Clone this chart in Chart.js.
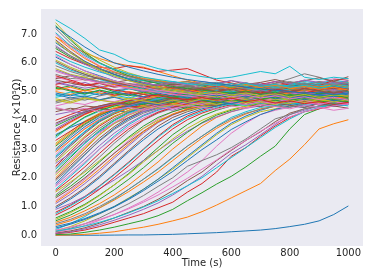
<!DOCTYPE html>
<html lang="en">
<head>
  <meta charset="UTF-8" />
  <title>Resistance vs time</title>
  <script src="https://cdn.jsdelivr.net/npm/chart.js"></script>
  <style>
    body { margin: 0; background: #fff; }
    #box { width: 374px; height: 280px; }
  </style>
</head>
<body>
  <div id="box"><canvas id="grafico"></canvas></div>
  <script>
    // time axis (s), one sample every 50 s
    const times = [0, 50, 100, 150, 200, 250, 300, 350, 400, 450, 500, 550, 600, 650, 700, 750, 800, 850, 900, 950, 1000];
    const xTicks = [0, 200, 400, 600, 800, 1000];
    const yTicks = [0, 1, 2, 3, 4, 5, 6, 7];

    // resistance curves (x10^5 ohm)
    const r00 = [0, 0, 0, 0, 0.005, 0.01, 0.01, 0.02, 0.03, 0.05, 0.07, 0.09, 0.12, 0.15, 0.18, 0.23, 0.3, 0.38, 0.5, 0.72, 1.02];
    const r01 = [0, 0.01, 0.03, 0.07, 0.12, 0.2, 0.28, 0.38, 0.5, 0.63, 0.82, 1.05, 1.3, 1.55, 1.8, 2.25, 2.65, 3.15, 3.7, 3.88, 4.02];
    const r02 = [0.02, 0.04, 0.1, 0.18, 0.28, 0.4, 0.52, 0.68, 0.9, 1.2, 1.48, 1.78, 2.05, 2.38, 2.75, 3.1, 3.7, 4.2, 4.4, 4.6, 4.7];
    const r03 = [0.05, 0.1, 0.18, 0.3, 0.45, 0.6, 0.75, 0.95, 1.15, 1.5, 1.8, 2.2, 2.75, 3.05, 3.45, 3.8, 4.1, 4.3, 4.4, 4.5, 4.6];
    const r04 = [0.06, 0.12, 0.22, 0.36, 0.52, 0.7, 0.9, 1.12, 1.4, 1.72, 2.05, 2.45, 2.85, 3.15, 3.5, 3.85, 4.2, 4.35, 4.5, 4.55, 4.65];
    const r05 = [0.08, 0.15, 0.26, 0.42, 0.6, 0.8, 1.0, 1.25, 1.55, 1.9, 2.2, 2.6, 2.95, 3.3, 3.6, 3.95, 4.25, 4.4, 4.5, 4.6, 4.7];
    const r06 = [0.1, 0.2, 0.34, 0.52, 0.72, 0.95, 1.2, 1.5, 1.85, 2.2, 2.6, 3.1, 3.55, 3.9, 4.2, 4.35, 4.45, 4.55, 4.6, 4.7, 4.75];
    const r07 = [0.12, 0.24, 0.4, 0.6, 0.85, 1.1, 1.38, 1.7, 2.0, 2.4, 2.6, 2.8, 3.05, 3.35, 3.7, 4.05, 4.2, 4.4, 4.5, 4.55, 4.6];
    const r08 = [0.15, 0.3, 0.5, 0.75, 1.0, 1.3, 1.6, 1.95, 2.3, 2.7, 3.1, 3.5, 3.85, 4.1, 4.3, 4.4, 4.5, 4.6, 4.65, 4.7, 4.8];
    const r09 = [0.2, 0.4, 0.65, 0.95, 1.25, 1.6, 1.95, 2.3, 2.7, 3.1, 3.45, 3.8, 4.1, 4.3, 4.45, 4.5, 4.6, 4.7, 4.7, 4.8, 4.85];
    const r10 = [0.3, 0.42, 0.58, 0.78, 1.0, 1.28, 1.6, 1.95, 2.35, 2.75, 3.15, 3.55, 3.9, 4.15, 4.35, 4.5, 4.55, 4.62, 4.7, 4.75, 4.8];
    const r11 = [0.45, 0.62, 0.85, 1.1, 1.4, 1.75, 2.15, 2.55, 3.0, 3.4, 3.8, 4.1, 4.3, 4.45, 4.55, 4.6, 4.7, 4.72, 4.8, 4.78, 4.85];
    const r12 = [0.6, 0.82, 1.08, 1.4, 1.75, 2.15, 2.6, 3.05, 3.5, 3.85, 4.15, 4.35, 4.5, 4.55, 4.65, 4.7, 4.75, 4.8, 4.85, 4.8, 4.9];
    const r13 = [0.8, 1.05, 1.35, 1.72, 2.12, 2.55, 3.0, 3.45, 3.85, 4.15, 4.35, 4.5, 4.6, 4.65, 4.72, 4.8, 4.78, 4.85, 4.9, 4.88, 4.95];
    const r14 = [0.9, 1.1, 1.35, 1.62, 1.92, 2.25, 2.6, 2.95, 3.3, 3.62, 3.9, 4.12, 4.3, 4.42, 4.5, 4.58, 4.62, 4.7, 4.65, 4.75, 4.72];
    const r15 = [1.0, 1.3, 1.65, 2.05, 2.5, 2.95, 3.4, 3.8, 4.1, 4.3, 4.45, 4.55, 4.62, 4.7, 4.8, 4.75, 4.85, 4.9, 4.85, 4.95, 5.0];
    const r16 = [1.2, 1.55, 1.95, 2.4, 2.85, 3.3, 3.72, 4.05, 4.3, 4.45, 4.55, 4.65, 4.7, 4.8, 4.78, 4.85, 4.9, 4.95, 4.9, 5.0, 4.95];
    const r17 = [1.4, 1.8, 2.25, 2.72, 3.2, 3.62, 4.0, 4.25, 4.42, 4.55, 4.62, 4.7, 4.75, 4.82, 4.9, 4.85, 4.95, 4.9, 5.0, 4.95, 5.05];
    const r18 = [1.5, 1.85, 2.2, 2.6, 3.0, 3.38, 3.72, 4.0, 4.2, 4.35, 4.45, 4.52, 4.6, 4.55, 4.65, 4.72, 4.68, 4.78, 4.72, 4.82, 4.78];
    const r19 = [1.6, 2.05, 2.5, 3.0, 3.45, 3.85, 4.15, 4.35, 4.5, 4.6, 4.68, 4.72, 4.8, 4.85, 4.8, 4.9, 4.95, 4.88, 5.0, 5.05, 4.98];
    const r20 = [1.8, 2.3, 2.8, 3.3, 3.72, 4.05, 4.3, 4.45, 4.55, 4.65, 4.7, 4.75, 4.8, 4.88, 4.92, 4.85, 4.95, 5.0, 4.92, 5.05, 5.1];
    const r21 = [2.0, 2.5, 3.0, 3.5, 3.9, 4.2, 4.4, 4.5, 4.6, 4.68, 4.72, 4.78, 4.85, 4.8, 4.9, 4.95, 4.88, 5.02, 4.95, 5.0, 5.08];
    const r22 = [2.2, 2.7, 3.2, 3.65, 4.0, 4.28, 4.45, 4.55, 4.62, 4.7, 4.78, 4.75, 4.85, 4.9, 4.82, 4.95, 5.0, 4.9, 5.05, 4.98, 5.1];
    const r23 = [2.4, 2.9, 3.4, 3.8, 4.12, 4.35, 4.5, 4.58, 4.65, 4.75, 4.7, 4.82, 4.9, 4.85, 4.95, 4.9, 5.05, 4.95, 5.1, 5.0, 5.12];
    const r24 = [2.5, 2.85, 3.25, 3.6, 3.9, 4.1, 4.3, 4.42, 4.35, 4.5, 4.62, 4.55, 4.68, 4.75, 4.7, 4.82, 4.78, 4.88, 4.8, 4.92, 4.85];
    const r25 = [2.6, 3.1, 3.55, 3.95, 4.22, 4.42, 4.55, 4.62, 4.7, 4.78, 4.85, 4.8, 4.92, 4.88, 5.0, 4.95, 5.1, 5.0, 5.15, 5.05, 5.15];
    const r26 = [2.8, 3.3, 3.72, 4.05, 4.3, 4.48, 4.58, 4.68, 4.72, 4.8, 4.76, 4.88, 4.95, 4.9, 5.05, 5.0, 5.12, 5.05, 5.2, 5.1, 5.2];
    const r27 = [3.0, 3.45, 3.85, 4.15, 4.38, 4.52, 4.6, 4.7, 4.78, 4.72, 4.85, 4.9, 4.85, 5.0, 4.95, 5.1, 5.05, 5.2, 5.1, 5.25, 5.15];
    const r28 = [3.2, 3.6, 3.98, 4.25, 4.45, 4.55, 4.65, 4.72, 4.8, 4.85, 4.8, 4.95, 5.0, 4.92, 5.08, 5.02, 5.15, 5.1, 5.22, 5.15, 5.3];
    const r29 = [3.4, 3.78, 4.1, 4.32, 4.5, 4.6, 4.68, 4.75, 4.7, 4.82, 4.9, 4.85, 4.98, 5.05, 4.95, 5.1, 5.2, 5.1, 5.25, 5.2, 5.25];
    const r30 = [3.5, 3.75, 3.95, 4.2, 4.35, 4.28, 4.45, 4.55, 4.5, 4.62, 4.7, 4.65, 4.78, 4.72, 4.85, 4.8, 4.92, 4.85, 4.95, 4.9, 4.98];
    const r31 = [3.6, 3.92, 4.2, 4.4, 4.52, 4.62, 4.72, 4.68, 4.8, 4.88, 4.82, 4.95, 4.9, 5.05, 5.0, 5.15, 5.08, 5.2, 5.15, 5.3, 5.2];
    const r32 = [3.8, 4.05, 4.28, 4.45, 4.55, 4.65, 4.6, 4.75, 4.82, 4.78, 4.9, 4.85, 5.0, 4.95, 5.1, 5.05, 5.2, 5.12, 5.28, 5.2, 5.3];
    const r33 = [4.0, 4.2, 4.38, 4.5, 4.6, 4.55, 4.7, 4.78, 4.72, 4.85, 4.8, 4.95, 4.9, 5.05, 5.0, 5.12, 5.08, 5.25, 5.18, 5.3, 5.25];
    const r34 = [4.2, 4.3, 4.25, 4.4, 4.35, 4.5, 4.45, 4.6, 4.55, 4.5, 4.65, 4.6, 4.7, 4.62, 4.75, 4.7, 4.6, 4.72, 4.65, 4.8, 4.7];
    const r35 = [4.4, 4.35, 4.5, 4.45, 4.6, 4.52, 4.65, 4.58, 4.7, 4.65, 4.75, 4.7, 4.6, 4.72, 4.8, 4.68, 4.75, 4.85, 4.78, 4.7, 4.82];
    const r36 = [4.5, 4.62, 4.55, 4.7, 4.65, 4.78, 4.7, 4.82, 4.75, 4.85, 4.78, 4.9, 4.82, 4.95, 4.88, 5.0, 4.92, 4.85, 4.98, 4.9, 5.0];
    const r37 = [4.6, 4.72, 4.8, 4.7, 4.85, 4.92, 4.82, 4.95, 5.05, 4.95, 5.1, 5.02, 5.15, 5.05, 5.18, 5.1, 5.22, 5.12, 5.25, 5.15, 5.2];
    const r38 = [4.7, 4.6, 4.75, 4.68, 4.82, 4.75, 4.9, 4.8, 4.72, 4.88, 4.95, 4.85, 4.78, 4.92, 5.0, 4.9, 4.82, 4.95, 5.05, 4.92, 4.88];
    const r39 = [4.8, 4.9, 4.82, 4.95, 4.88, 4.78, 4.92, 5.0, 4.9, 4.82, 4.95, 5.05, 4.95, 4.85, 5.0, 5.1, 4.98, 4.9, 5.05, 5.12, 5.0];
    const r40 = [4.9, 4.78, 4.85, 4.72, 4.8, 4.68, 4.75, 4.65, 4.72, 4.6, 4.68, 4.58, 4.65, 4.55, 4.62, 4.52, 4.6, 4.5, 4.58, 4.48, 4.55];
    const r41 = [5.0, 4.9, 5.05, 4.95, 4.85, 5.0, 4.92, 5.08, 4.98, 4.9, 5.05, 4.95, 5.1, 5.0, 4.92, 5.05, 5.15, 5.02, 4.95, 5.1, 5.05];
    const r42 = [5.1, 5.2, 5.05, 5.15, 5.0, 5.1, 4.98, 5.12, 5.05, 5.18, 5.08, 5.0, 5.15, 5.22, 5.1, 5.02, 5.18, 5.25, 5.12, 5.05, 5.2];
    const r43 = [5.2, 5.05, 4.95, 5.02, 4.88, 4.95, 4.82, 4.9, 4.78, 4.85, 4.75, 4.82, 4.7, 4.78, 4.68, 4.75, 4.65, 4.72, 4.62, 4.7, 4.6];
    const r44 = [5.3, 5.2, 5.32, 5.15, 5.25, 5.1, 5.22, 5.08, 5.18, 5.05, 5.15, 5.25, 5.12, 5.2, 5.3, 5.18, 5.1, 5.22, 5.35, 5.25, 5.3];
    const r45 = [5.4, 5.3, 5.2, 5.28, 5.15, 5.22, 5.1, 5.2, 5.05, 5.12, 5.0, 5.1, 4.95, 5.05, 4.92, 5.0, 5.08, 4.95, 5.02, 4.9, 5.0];
    const r46 = [5.5, 5.38, 5.42, 5.3, 5.35, 5.25, 5.3, 5.2, 5.28, 5.15, 5.22, 5.1, 5.18, 5.3, 5.2, 5.35, 5.25, 5.4, 5.3, 5.45, 5.38];
    const r47 = [5.6, 5.45, 5.5, 5.3, 5.38, 5.2, 5.25, 5.1, 5.15, 5.0, 5.08, 4.95, 5.02, 4.9, 4.98, 4.85, 4.95, 4.88, 4.8, 4.9, 4.85];
    const r48 = [5.8, 5.6, 5.5, 5.35, 5.25, 5.15, 5.1, 5.0, 4.95, 4.9, 4.85, 4.8, 4.88, 4.75, 4.82, 4.7, 4.78, 4.65, 4.72, 4.6, 4.7];
    const r49 = [6.0, 5.75, 5.6, 5.42, 5.3, 5.18, 5.08, 5.0, 4.92, 4.85, 4.9, 4.78, 4.85, 4.72, 4.8, 4.7, 4.62, 4.75, 4.68, 4.55, 4.6];
    const r50 = [6.2, 5.95, 5.72, 5.55, 5.38, 5.25, 5.12, 5.05, 4.95, 4.88, 4.95, 4.82, 4.75, 4.85, 4.7, 4.78, 4.65, 4.72, 4.6, 4.68, 4.55];
    const r51 = [6.9, 6.6, 6.35, 6.15, 6.0, 5.9, 5.85, 5.7, 5.55, 5.4, 5.3, 5.2, 5.1, 5.05, 4.95, 4.9, 4.85, 4.8, 4.75, 4.7, 4.65];
    const r52 = [6.5, 6.2, 5.98, 5.78, 5.6, 5.45, 5.38, 5.3, 5.25, 5.15, 5.2, 5.1, 5.15, 5.05, 5.1, 5.0, 5.08, 4.95, 5.02, 4.9, 4.98];
    const r53 = [6.4, 6.15, 5.95, 5.85, 5.8, 5.9, 5.82, 5.7, 5.75, 5.8, 5.6, 5.4, 5.3, 5.2, 5.15, 5.05, 5.1, 4.98, 5.0, 4.92, 4.95];
    const r54 = [6.6, 6.25, 5.95, 5.72, 5.5, 5.38, 5.25, 5.15, 5.08, 5.12, 5.0, 5.05, 4.95, 5.02, 4.9, 4.98, 4.85, 4.92, 4.8, 4.88, 4.82];
    const r55 = [6.8, 6.4, 6.05, 5.8, 5.6, 5.45, 5.32, 5.2, 5.25, 5.1, 5.15, 5.05, 5.1, 4.98, 5.05, 4.92, 5.0, 4.88, 4.95, 4.85, 4.92];
    const r56 = [7.0, 6.55, 6.2, 5.9, 5.7, 5.5, 5.4, 5.3, 5.2, 5.25, 5.12, 5.18, 5.05, 5.12, 5.0, 5.08, 4.95, 5.02, 4.9, 4.98, 4.9];
    const r57 = [7.2, 6.7, 6.3, 6.0, 5.78, 5.6, 5.45, 5.35, 5.28, 5.2, 5.25, 5.15, 5.2, 5.1, 5.15, 5.3, 5.45, 5.62, 5.5, 5.35, 5.3];
    const r58 = [7.4, 6.85, 6.4, 6.1, 5.85, 5.65, 5.5, 5.4, 5.3, 5.35, 5.22, 5.28, 5.15, 5.22, 5.1, 5.18, 5.05, 5.12, 5.0, 5.08, 5.0];
    const r59 = [7.5, 7.2, 6.85, 6.45, 6.3, 6.05, 5.95, 5.8, 5.7, 5.6, 5.52, 5.45, 5.5, 5.6, 5.7, 5.62, 5.88, 5.5, 5.42, 5.5, 5.45];
    // more curves from the rising fan
    const a00 = [0.15, 0.22, 0.32, 0.45, 0.6, 0.78, 0.98, 1.2, 1.45, 1.72, 2.0, 2.35, 2.7, 3.05, 3.4, 3.75, 4.05, 4.3, 4.45, 4.55, 4.62];
    const a01 = [0.25, 0.38, 0.55, 0.75, 0.98, 1.25, 1.55, 1.88, 2.22, 2.6, 2.98, 3.32, 3.68, 3.95, 4.2, 4.38, 4.5, 4.45, 4.6, 4.68, 4.65];
    const a02 = [0.35, 0.5, 0.7, 0.95, 1.22, 1.52, 1.85, 2.2, 2.6, 3.0, 3.38, 3.72, 4.0, 4.22, 4.4, 4.48, 4.62, 4.7, 4.65, 4.78, 4.82];
    const a03 = [0.5, 0.7, 0.95, 1.25, 1.58, 1.95, 2.35, 2.78, 3.2, 3.58, 3.92, 4.18, 4.35, 4.5, 4.58, 4.7, 4.65, 4.78, 4.85, 4.8, 4.92];
    const a04 = [0.7, 0.95, 1.25, 1.6, 2.0, 2.42, 2.88, 3.3, 3.7, 4.02, 4.25, 4.42, 4.55, 4.62, 4.7, 4.78, 4.85, 4.8, 4.92, 5.0, 4.95];
    const a05 = [1.1, 1.42, 1.8, 2.22, 2.68, 3.12, 3.55, 3.92, 4.18, 4.38, 4.5, 4.6, 4.68, 4.75, 4.85, 4.95, 4.9, 5.02, 5.1, 5.05, 5.15];
    const a06 = [1.3, 1.62, 2.0, 2.42, 2.85, 3.25, 3.62, 3.95, 4.2, 4.38, 4.5, 4.58, 4.52, 4.65, 4.6, 4.72, 4.68, 4.62, 4.75, 4.7, 4.6];
    const a07 = [1.7, 2.1, 2.55, 3.0, 3.4, 3.78, 4.08, 4.3, 4.45, 4.58, 4.52, 4.68, 4.75, 4.7, 4.82, 4.92, 4.88, 5.0, 5.1, 5.02, 5.12];
    const a08 = [1.9, 2.35, 2.82, 3.28, 3.68, 4.0, 4.25, 4.42, 4.55, 4.5, 4.62, 4.58, 4.7, 4.65, 4.55, 4.68, 4.62, 4.75, 4.68, 4.58, 4.66];
    const a09 = [2.1, 2.55, 3.05, 3.5, 3.88, 4.18, 4.38, 4.52, 4.62, 4.7, 4.8, 4.9, 4.85, 4.98, 5.05, 4.98, 5.1, 5.2, 5.12, 5.25, 5.18];
    const a10 = [2.3, 2.75, 3.2, 3.62, 3.98, 4.25, 4.42, 4.5, 4.45, 4.55, 4.5, 4.62, 4.55, 4.68, 4.6, 4.5, 4.62, 4.55, 4.45, 4.58, 4.5];
    const a11 = [2.7, 3.15, 3.6, 3.98, 4.25, 4.45, 4.58, 4.7, 4.8, 4.92, 4.88, 5.0, 5.08, 5.0, 5.12, 5.22, 5.15, 5.28, 5.2, 5.32, 5.25];
    const a12 = [2.9, 3.3, 3.7, 4.02, 4.25, 4.42, 4.52, 4.48, 4.6, 4.55, 4.68, 4.62, 4.75, 4.7, 4.62, 4.75, 4.85, 4.78, 4.7, 4.82, 4.75];
    const a13 = [3.1, 3.5, 3.88, 4.18, 4.4, 4.55, 4.68, 4.8, 4.75, 4.9, 5.0, 4.92, 5.05, 5.15, 5.05, 4.98, 5.1, 5.02, 5.15, 5.08, 4.98];
    const a14 = [3.3, 3.62, 3.95, 4.22, 4.4, 4.5, 4.45, 4.58, 4.52, 4.65, 4.58, 4.7, 4.62, 4.55, 4.68, 4.6, 4.72, 4.65, 4.58, 4.7, 4.62];
    const a15 = [3.7, 4.0, 4.25, 4.45, 4.58, 4.7, 4.82, 4.75, 4.88, 4.95, 5.05, 4.98, 5.1, 5.02, 5.15, 5.25, 5.18, 5.1, 5.22, 5.32, 5.28];
    const a16 = [3.9, 4.12, 4.3, 4.42, 4.35, 4.48, 4.42, 4.55, 4.5, 4.42, 4.55, 4.5, 4.62, 4.55, 4.48, 4.6, 4.52, 4.45, 4.58, 4.5, 4.42];
    const d00 = [0.18, 0.28, 0.4, 0.55, 0.72, 0.92, 1.15, 1.4, 1.68, 1.98, 2.3, 2.62, 2.98, 3.3, 3.62, 3.9, 4.12, 4.3, 4.42, 4.5, 4.58];
    const d01 = [0.4, 0.55, 0.75, 1.0, 1.28, 1.6, 1.95, 2.32, 2.72, 3.1, 3.45, 3.78, 4.05, 4.25, 4.38, 4.5, 4.45, 4.58, 4.65, 4.6, 4.7];
    const d02 = [0.55, 0.78, 1.05, 1.38, 1.75, 2.12, 2.55, 2.95, 3.35, 3.72, 4.0, 4.22, 4.38, 4.5, 4.62, 4.55, 4.7, 4.78, 4.72, 4.85, 4.9];
    const d03 = [0.75, 1.02, 1.32, 1.7, 2.1, 2.52, 2.98, 3.42, 3.8, 4.1, 4.3, 4.45, 4.58, 4.52, 4.65, 4.75, 4.7, 4.82, 4.9, 4.85, 4.95];
    const d04 = [0.95, 1.25, 1.6, 2.0, 2.45, 2.9, 3.32, 3.7, 4.0, 4.22, 4.4, 4.5, 4.62, 4.7, 4.65, 4.78, 4.85, 4.8, 4.92, 4.88, 5.0];
    const d05 = [1.15, 1.5, 1.88, 2.3, 2.75, 3.18, 3.6, 3.95, 4.22, 4.4, 4.52, 4.62, 4.7, 4.8, 4.75, 4.88, 4.95, 5.05, 4.98, 5.1, 5.05];
    const d06 = [1.35, 1.7, 2.1, 2.55, 3.0, 3.42, 3.8, 4.1, 4.3, 4.45, 4.55, 4.65, 4.75, 4.7, 4.82, 4.78, 4.9, 4.85, 4.95, 4.9, 4.85];
    const d07 = [1.55, 1.95, 2.38, 2.85, 3.3, 3.7, 4.02, 4.28, 4.45, 4.58, 4.68, 4.62, 4.75, 4.85, 4.8, 4.92, 5.0, 4.95, 5.05, 5.12, 5.08];
    const d08 = [1.75, 2.2, 2.65, 3.12, 3.55, 3.9, 4.18, 4.38, 4.5, 4.62, 4.58, 4.7, 4.65, 4.75, 4.7, 4.62, 4.72, 4.68, 4.8, 4.75, 4.68];
    const d09 = [1.95, 2.42, 2.9, 3.38, 3.78, 4.1, 4.35, 4.5, 4.62, 4.72, 4.82, 4.78, 4.9, 4.98, 4.92, 5.05, 5.12, 5.05, 5.18, 5.1, 5.2];
    const d10 = [2.15, 2.62, 3.1, 3.55, 3.92, 4.2, 4.4, 4.55, 4.5, 4.62, 4.55, 4.68, 4.62, 4.55, 4.65, 4.58, 4.7, 4.62, 4.55, 4.65, 4.58];
    const d11 = [2.35, 2.82, 3.3, 3.72, 4.05, 4.3, 4.48, 4.6, 4.72, 4.82, 4.92, 5.02, 4.95, 5.08, 5.0, 5.12, 5.05, 5.18, 5.25, 5.15, 5.22];
    const d12 = [2.55, 3.0, 3.45, 3.85, 4.15, 4.35, 4.48, 4.42, 4.55, 4.5, 4.62, 4.55, 4.68, 4.6, 4.72, 4.65, 4.58, 4.7, 4.62, 4.75, 4.68];
    const d13 = [2.75, 3.2, 3.62, 4.0, 4.28, 4.48, 4.62, 4.75, 4.85, 4.8, 4.95, 5.05, 4.98, 5.12, 5.05, 4.98, 5.1, 5.2, 5.1, 5.18, 5.1];
    const d14 = [2.95, 3.38, 3.78, 4.1, 4.35, 4.5, 4.62, 4.55, 4.68, 4.6, 4.72, 4.65, 4.58, 4.7, 4.82, 4.75, 4.85, 4.78, 4.9, 4.82, 4.88];
    const d15 = [3.15, 3.55, 3.92, 4.2, 4.42, 4.58, 4.72, 4.85, 4.95, 5.05, 4.98, 5.1, 5.2, 5.12, 5.25, 5.18, 5.3, 5.22, 5.15, 5.28, 5.35];
    const d16 = [3.45, 3.8, 4.12, 4.35, 4.5, 4.6, 4.55, 4.68, 4.62, 4.75, 4.7, 4.6, 4.72, 4.65, 4.78, 4.7, 4.62, 4.75, 4.68, 4.6, 4.72];
    const d17 = [3.65, 3.95, 4.22, 4.42, 4.55, 4.68, 4.78, 4.9, 4.85, 4.98, 5.08, 5.0, 5.12, 5.05, 4.95, 5.08, 5.0, 5.12, 5.05, 5.18, 5.1];
    const d18 = [3.85, 4.1, 4.32, 4.48, 4.58, 4.52, 4.65, 4.58, 4.7, 4.62, 4.72, 4.8, 4.72, 4.85, 4.78, 4.88, 4.8, 4.92, 4.85, 4.95, 4.9];
    // more curves from the flat band
    const b00 = [4.3, 4.42, 4.35, 4.5, 4.62, 4.55, 4.7, 4.62, 4.78, 4.7, 4.85, 4.95, 4.88, 5.0, 4.92, 5.05, 4.95, 5.1, 5.02, 4.95, 5.08];
    const b01 = [4.45, 4.32, 4.42, 4.3, 4.38, 4.45, 4.35, 4.48, 4.4, 4.52, 4.45, 4.38, 4.5, 4.42, 4.55, 4.48, 4.4, 4.52, 4.45, 4.35, 4.42];
    const b02 = [4.65, 4.78, 4.7, 4.85, 4.95, 4.88, 5.02, 4.95, 5.1, 5.02, 5.15, 5.08, 5.22, 5.15, 5.25, 5.18, 5.3, 5.22, 5.35, 5.28, 5.38];
    const b03 = [4.75, 4.65, 4.78, 4.7, 4.62, 4.75, 4.68, 4.58, 4.7, 4.62, 4.75, 4.68, 4.8, 4.72, 4.65, 4.78, 4.7, 4.62, 4.72, 4.65, 4.75];
    const b04 = [4.85, 4.98, 4.9, 5.05, 4.95, 5.1, 5.02, 5.15, 5.08, 5.2, 5.1, 5.25, 5.18, 5.3, 5.2, 5.12, 5.25, 5.35, 5.28, 5.4, 5.32];
    const b05 = [4.95, 4.85, 4.98, 4.88, 5.0, 4.9, 4.82, 4.95, 4.85, 4.78, 4.9, 4.82, 4.95, 4.85, 4.78, 4.9, 4.82, 4.95, 4.88, 4.8, 4.92];
    const b06 = [5.05, 5.15, 5.02, 5.12, 5.25, 5.15, 5.05, 5.18, 5.1, 5.0, 5.12, 5.22, 5.1, 5.02, 5.15, 5.25, 5.12, 5.05, 5.18, 5.28, 5.15];
    const b07 = [5.15, 5.02, 4.92, 5.05, 4.95, 4.85, 4.98, 4.88, 4.8, 4.92, 4.82, 4.75, 4.88, 4.78, 4.7, 4.82, 4.75, 4.68, 4.8, 4.72, 4.65];
    const b08 = [5.25, 5.35, 5.22, 5.3, 5.18, 5.28, 5.15, 5.25, 5.12, 5.2, 5.1, 5.18, 5.28, 5.15, 5.25, 5.35, 5.22, 5.3, 5.2, 5.4, 5.45];
    const b09 = [5.35, 5.22, 5.12, 5.2, 5.05, 5.12, 5.0, 5.08, 4.95, 5.02, 4.9, 4.98, 4.88, 4.95, 5.05, 4.92, 5.0, 4.9, 4.98, 5.08, 4.95];
    const b10 = [5.45, 5.55, 5.4, 5.48, 5.32, 5.4, 5.28, 5.35, 5.22, 5.3, 5.2, 5.28, 5.38, 5.25, 5.32, 5.42, 5.3, 5.38, 5.48, 5.35, 5.52];
    // more curves from the decaying top
    const c00 = [5.7, 5.55, 5.42, 5.3, 5.2, 5.12, 5.05, 4.98, 4.9, 4.85, 4.78, 4.85, 4.72, 4.8, 4.68, 4.75, 4.62, 4.7, 4.58, 4.65, 4.55];
    const c01 = [5.9, 5.7, 5.55, 5.45, 5.35, 5.28, 5.2, 5.25, 5.15, 5.2, 5.1, 5.15, 5.05, 5.12, 5.2, 5.1, 5.18, 5.05, 5.12, 5.0, 5.08];
    const c02 = [6.1, 5.85, 5.65, 5.5, 5.35, 5.25, 5.15, 5.08, 5.0, 4.95, 4.88, 4.82, 4.9, 4.78, 4.85, 4.72, 4.8, 4.7, 4.78, 4.65, 4.72];
    const c03 = [6.3, 6.05, 5.85, 5.68, 5.55, 5.45, 5.38, 5.3, 5.35, 5.25, 5.3, 5.2, 5.28, 5.18, 5.25, 5.15, 5.22, 5.3, 5.2, 5.28, 5.18];
    const c04 = [6.7, 6.35, 6.05, 5.8, 5.6, 5.42, 5.28, 5.15, 5.05, 4.98, 4.92, 4.85, 4.92, 4.8, 4.88, 4.75, 4.82, 4.72, 4.8, 4.68, 4.75];
    const c05 = [6.9, 6.5, 6.15, 5.88, 5.68, 5.55, 5.45, 5.38, 5.3, 5.35, 5.25, 5.3, 5.2, 5.25, 5.15, 5.22, 5.12, 5.18, 5.08, 5.15, 5.05];
    const c06 = [7.3, 6.8, 6.35, 6.0, 5.75, 5.55, 5.4, 5.28, 5.18, 5.1, 5.05, 5.0, 4.95, 5.02, 4.9, 4.98, 4.85, 4.92, 4.8, 4.88, 4.78];
    const e00 = [5.55, 5.4, 5.25, 5.15, 5.05, 4.98, 4.9, 4.85, 4.78, 4.72, 4.8, 4.7, 4.78, 4.65, 4.72, 4.6, 4.68, 4.58, 4.65, 4.55, 4.62];
    const e01 = [5.75, 5.58, 5.45, 5.35, 5.28, 5.2, 5.3, 5.22, 5.32, 5.25, 5.35, 5.28, 5.38, 5.3, 5.22, 5.35, 5.28, 5.4, 5.32, 5.25, 5.38];
    const e02 = [6.05, 5.8, 5.6, 5.45, 5.32, 5.22, 5.15, 5.08, 5.15, 5.05, 5.12, 5.0, 5.08, 4.95, 5.02, 4.92, 5.0, 5.1, 5.02, 4.95, 5.05];
    const e03 = [6.25, 5.95, 5.72, 5.52, 5.38, 5.25, 5.15, 5.05, 4.98, 4.92, 4.85, 4.92, 4.82, 4.88, 4.78, 4.85, 4.75, 4.82, 4.72, 4.8, 4.7];
    const e04 = [6.55, 6.25, 6.0, 5.8, 5.65, 5.52, 5.42, 5.35, 5.28, 5.35, 5.25, 5.32, 5.22, 5.3, 5.2, 5.28, 5.35, 5.25, 5.32, 5.22, 5.28];
    const e05 = [6.75, 6.35, 6.02, 5.75, 5.55, 5.38, 5.25, 5.15, 5.05, 4.98, 4.92, 4.98, 4.88, 4.95, 4.85, 4.92, 4.82, 4.9, 4.8, 4.88, 4.85];
    const e06 = [7.05, 6.6, 6.25, 5.98, 5.78, 5.62, 5.5, 5.42, 5.35, 5.28, 5.22, 5.3, 5.2, 5.28, 5.18, 5.25, 5.15, 5.22, 5.12, 5.2, 5.12];
    const e07 = [7.25, 6.9, 6.55, 6.25, 6.0, 5.85, 5.72, 5.6, 5.5, 5.42, 5.35, 5.28, 5.22, 5.15, 5.1, 5.05, 5.0, 4.95, 4.98, 4.9, 4.95];

    const curves = [r00, r01, r02, r03, r04, r05, r06, r07, r08, r09, r10, r11, r12, r13, r14, r15, r16, r17, r18, r19,
                    r20, r21, r22, r23, r24, r25, r26, r27, r28, r29, r30, r31, r32, r33, r34, r35, r36, r37, r38, r39,
                    r40, r41, r42, r43, r44, r45, r46, r47, r48, r49, r50, r51, r52, r53, r54, r55, r56, r57, r58,
                    a00, a01, a02, a03, a04, a05, a06, a07, a08, a09, a10, a11, a12, a13, a14, a15, a16,
                    d00, d01, d02, d03, d04, d05, d06, d07, d08, d09, d10, d11, d12, d13, d14, d15, d16, d17, d18,
                    b00, b01, b02, b03, b04, b05, b06, b07, b08, b09, b10,
                    c00, c01, c02, c03, c04, c05, c06, e00, e01, e02, e03, e04, e05, e06, e07, r59];

    const cores = ['#1f77b4', '#ff7f0e', '#2ca02c', '#d62728', '#9467bd', '#8c564b', '#e377c2', '#7f7f7f', '#bcbd22', '#17becf'];

    // Chart.js puts dataset 0 on top, so reverse to keep the last curve on top
    const datasets = curves.map((c, i) => ({
      data: times.map((t, k) => ({ x: t, y: c[k] })),
      borderColor: c === r59 ? '#17becf' : cores[i % cores.length],
      borderWidth: 1,
      pointRadius: 0,
      fill: false,
      tension: 0
    })).reverse();

    const fundo = {
      id: 'fundo',
      beforeDraw(chart) {
        const a = chart.chartArea;
        const ctx = chart.ctx;
        ctx.save();
        ctx.fillStyle = '#eaeaf2';
        ctx.fillRect(a.left, a.top, a.right - a.left, a.bottom - a.top);
        ctx.restore();
      }
    };

    const fonte = { family: 'DejaVu Sans', size: 10, lineHeight: 1 };
    const cinza = '#262626';

    new Chart(document.getElementById('grafico'), {
      type: 'line',
      data: { datasets },
      plugins: [fundo],
      options: {
        responsive: true,
        maintainAspectRatio: false,
        animation: false,
        layout: { padding: { top: 9, right: 11, bottom: 0, left: 0 } },
        plugins: { legend: { display: false }, tooltip: { enabled: false } },
        scales: {
          x: {
            type: 'linear',
            min: -50,
            max: 1050,
            afterBuildTicks: s => { s.ticks = xTicks.map(v => ({ value: v })); },
            afterFit: s => { s.height = 34; },
            ticks: { font: fonte, color: cinza, padding: 2, maxRotation: 0, callback: v => String(v) },
            grid: { display: false, drawTicks: false },
            border: { display: false },
            title: { display: true, text: 'Time (s)', font: fonte, color: cinza, padding: { top: 0, bottom: 11.5 } }
          },
          y: {
            min: -0.375,
            max: 7.875,
            afterBuildTicks: s => { s.ticks = yTicks.map(v => ({ value: v })); },
            afterFit: s => { s.width = 41; },
            ticks: { font: fonte, color: cinza, padding: 4, callback: v => v.toFixed(1) },
            grid: { display: false, drawTicks: false },
            border: { display: false },
            title: { display: true, text: 'Resistance (×10⁵Ω)', font: fonte, color: cinza, padding: { top: 12, bottom: 0 } }
          }
        }
      }
    });
  </script>
</body>
</html>
